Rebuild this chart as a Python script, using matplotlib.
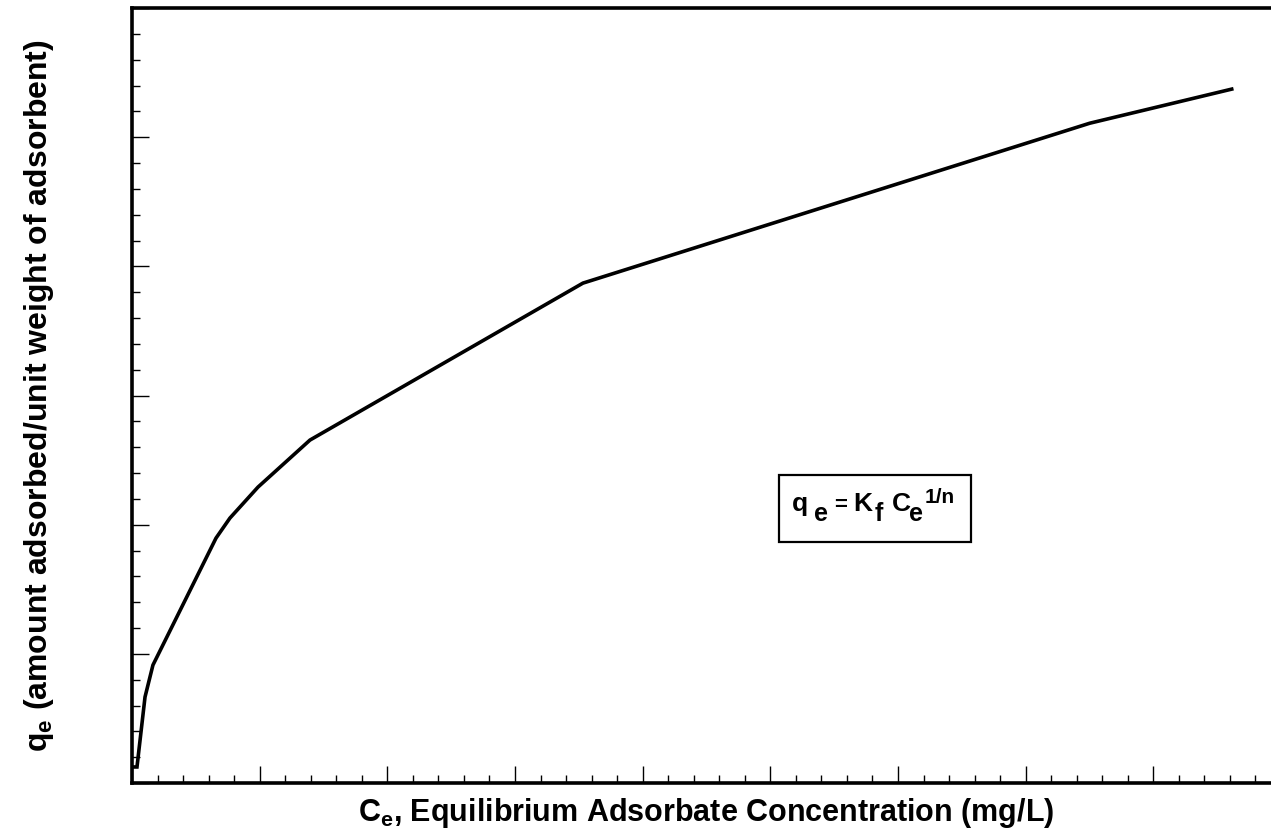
import matplotlib
matplotlib.use("Agg")
import matplotlib.pyplot as plt
from matplotlib.patches import Rectangle
from matplotlib.ticker import MultipleLocator, NullFormatter

plt.rcParams["font.family"] = ["Liberation Sans", "DejaVu Sans"]
plt.rcParams["mathtext.fontset"] = "custom"
plt.rcParams["mathtext.rm"] = "Liberation Sans:bold"
plt.rcParams["mathtext.it"] = "Liberation Sans:bold"
plt.rcParams["mathtext.bf"] = "Liberation Sans:bold"

# Freundlich isotherm curve (arbitrary units)
ce = [0.16, 0.39, 1.02, 1.64, 6.58, 7.67, 9.87, 13.94, 35.32, 75.02, 86.14]
qe = [1.24, 1.24, 6.66, 9.13, 18.96, 20.51, 22.91, 26.55, 38.70, 51.08, 53.72]

x_label = r"$\mathregular{C_e}$, Equilibrium Adsorbate Concentration (mg/L)"
y_label = r"$\mathregular{q_e}$ (amount adsorbed/unit weight of adsorbent)"

fig = plt.figure(figsize=(12.71, 8.31), dpi=100)
ax = fig.add_axes([132 / 1271, 48 / 831, 1149 / 1271, 775 / 831])

ax.plot(ce, qe, color="black", linewidth=2.6, solid_joinstyle="miter")

ax.set_xlim(0, 90)
ax.set_ylim(0, 60)
ax.xaxis.set_major_locator(MultipleLocator(10))
ax.xaxis.set_minor_locator(MultipleLocator(2))
ax.yaxis.set_major_locator(MultipleLocator(10))
ax.yaxis.set_minor_locator(MultipleLocator(2))
ax.xaxis.set_major_formatter(NullFormatter())
ax.yaxis.set_major_formatter(NullFormatter())
ax.tick_params(which="major", direction="in", length=12.5, width=1.0, color="black")
ax.tick_params(which="minor", direction="in", length=6, width=1.0, color="black")

for s in ax.spines.values():
    s.set_linewidth(2.6)

ax.set_xlabel(x_label, fontsize=22, fontweight="bold", labelpad=6)
ax.set_ylabel(y_label, fontsize=23, fontweight="bold", labelpad=51)

# Equation box: q_e = K_f C_e^(1/n)
ax.add_patch(Rectangle((50.7, 18.65), 15.0, 5.2, fill=False,
                       edgecolor="black", linewidth=1.6, zorder=3))
eq_parts = [
    ("q", 51.70, 21.05, 19),
    ("e", 53.40, 20.30, 18),
    ("=", 55.00, 21.05, 16),
    ("K", 56.50, 21.05, 19),
    ("f", 58.20, 20.30, 18),
    ("C", 59.50, 21.05, 19),
    ("e", 60.90, 20.30, 18),
    ("1/n", 62.10, 21.70, 15),
]
for txt, xx, yy, fs in eq_parts:
    ax.text(xx, yy, txt, fontsize=fs, fontweight="bold", ha="left",
            va="baseline", zorder=4)

fig.savefig("out.png", dpi=100)
